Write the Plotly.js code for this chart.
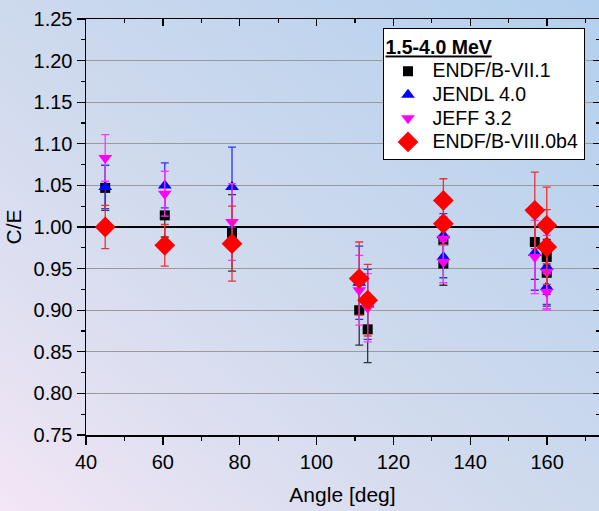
<!DOCTYPE html>
<html>
<head>
<meta charset="utf-8">
<script src="https://cdn.plot.ly/plotly-3.0.1.min.js"></script>
<style>
html,body{margin:0;padding:0;width:599px;height:511px;overflow:hidden;
background:linear-gradient(to top right,#f4e6f5 0%,#dfe0f1 22%,#cdd9ed 50%,#b3d0ee 100%);}
#chart{width:599px;height:511px;}
</style>
</head>
<body>
<div id="chart"></div>
<script>
// Angles (deg) of the measurement points
const angles = [45, 60.5, 78, 111.1, 113.3, 133, 133, 156.8, 159.9, 159.9];

// C/E values and uncertainties per library
const endf71 = [1.047, 1.014, 0.993, 0.900, 0.877, 0.984, 0.956, 0.982, 0.964, 0.945];
const endf71Err = [0.027, 0.026, 0.046, 0.042, 0.040, 0.027, 0.026, 0.045, 0.045, 0.040];

const jendl = [1.048, 1.050, 1.048, 0.933, 0.907, 0.990, 0.964, 0.969, 0.952, 0.928];
const jendlErr = [0.026, 0.027, 0.048, 0.044, 0.042, 0.026, 0.025, 0.045, 0.045, 0.026];

const jeff = [1.083, 1.040, 1.006, 0.924, 0.903, 0.986, 0.958, 0.964, 0.946, 0.922];
const jeffErr = [0.028, 0.027, 0.046, 0.042, 0.041, 0.026, 0.025, 0.044, 0.044, 0.022];

const endf80 = [1.000, 0.978, 0.980, 0.938, 0.912, 1.032, 1.004, 1.020, 1.002, 0.976];
const endf80Err = [0.026, 0.025, 0.045, 0.044, 0.043, 0.026, 0.025, 0.046, 0.046, 0.045];

const names = ['ENDF/B-VII.1', 'JENDL 4.0', 'JEFF 3.2', 'ENDF/B-VIII.0b4'];
const legendTitle = '1.5-4.0 MeV';
const xTitle = 'Angle [deg]';
const yTitle = 'C/E';
const refLevel = 1.0;

function series(y, err, name, symbol, size, color, errColor) {
  return {
    x: angles, y: y, name: '<span style="font-size:19.5px">' + name + '</span>',
    type: 'scatter', mode: 'markers',
    marker: {symbol: symbol, size: size, color: color, line: {width: 0}},
    error_y: {type: 'data', array: err, visible: true, color: errColor, thickness: 1.3, width: 4}
  };
}

const traces = [
  series(endf71, endf71Err, names[0], 'square', 10, '#000000', '#333333'),
  series(jendl, jendlErr, names[1], 'triangle-up', 12, '#0000ff', '#3030ff'),
  series(jeff, jeffErr, names[2], 'triangle-down', 12, '#ff00ff', '#ff33ff'),
  series(endf80, endf80Err, names[3], 'diamond', 16, '#ff0000', '#f03030'),
  {x: [], y: [], xaxis: 'x2', yaxis: 'y2', showlegend: false, hoverinfo: 'skip', type: 'scatter'}
];

const fam = 'Liberation Sans, Arial, sans-serif';
const tickFont = {family: fam, size: 20, color: '#000'};
const titleFont = {family: fam, size: 21, color: '#000'};
const xr = [40, 173.5];
const yr = [0.75, 1.25];

const layout = {
  width: 599, height: 511,
  margin: {l: 86, r: 0, t: 19, b: 76},
  paper_bgcolor: 'rgba(0,0,0,0)',
  plot_bgcolor: 'rgba(0,0,0,0)',
  font: tickFont,
  showlegend: true,
  legend: {
    x: 0.578, y: 0.978, xanchor: 'left', yanchor: 'top',
    bgcolor: '#ffffff', bordercolor: '#000000', borderwidth: 1,
    font: {family: fam, size: 15.8, color: '#000'},
    title: {text: '<b><u>' + legendTitle + '</u></b>', font: {family: fam, size: 19.5, color: '#000'}},
    itemwidth: 39, tracegroupgap: 0
  },
  xaxis: {
    range: xr, dtick: 20, tick0: 40, ticks: 'outside', ticklen: 8, tickwidth: 1.3, tickcolor: '#000',
    showline: true, linecolor: '#000', linewidth: 1.5, showgrid: false, zeroline: false,
    minor: {dtick: 10, ticks: 'outside', ticklen: 4, tickwidth: 1.2, tickcolor: '#000', showgrid: false},
    tickfont: tickFont, title: {text: xTitle, font: titleFont, standoff: 16}
  },
  yaxis: {
    range: yr, dtick: 0.05, tick0: 0.75, tickformat: '.2f', ticks: 'outside', ticklen: 8, tickwidth: 1.3, tickcolor: '#000',
    showline: true, linecolor: '#000', linewidth: 1.5, showgrid: true, gridcolor: '#9a9a9a', gridwidth: 1.3, zeroline: false,
    minor: {dtick: 0.025, ticks: 'outside', ticklen: 4, tickwidth: 1.2, tickcolor: '#000', showgrid: false},
    tickfont: tickFont, title: {text: yTitle, font: titleFont, standoff: 6}
  },
  xaxis2: {
    overlaying: 'x', side: 'top', anchor: 'y2', range: xr, dtick: 20, tick0: 40,
    ticks: 'inside', ticklen: 7, tickwidth: 1.3, tickcolor: '#000', showticklabels: false,
    showline: true, linecolor: '#000', linewidth: 1.5, showgrid: false, zeroline: false,
    minor: {dtick: 10, ticks: 'inside', ticklen: 4, tickwidth: 1.2, tickcolor: '#000', showgrid: false}
  },
  yaxis2: {
    overlaying: 'y', side: 'right', anchor: 'x2', range: yr, dtick: 0.05, tick0: 0.75,
    ticks: 'inside', ticklen: 6, tickwidth: 1.3, tickcolor: '#000', showticklabels: false,
    showline: true, linecolor: '#000', linewidth: 1.5, showgrid: false, zeroline: false,
    minor: {dtick: 0.025, ticks: 'inside', ticklen: 3, tickwidth: 1.2, tickcolor: '#000', showgrid: false}
  },
  shapes: [
    {type: 'line', xref: 'x', yref: 'y', x0: xr[0], x1: xr[1], y0: refLevel, y1: refLevel,
     line: {color: '#000000', width: 2.2}, layer: 'between'}
  ]
};

Plotly.newPlot('chart', traces, layout, {displayModeBar: false, staticPlot: true});
</script>
</body>
</html>
